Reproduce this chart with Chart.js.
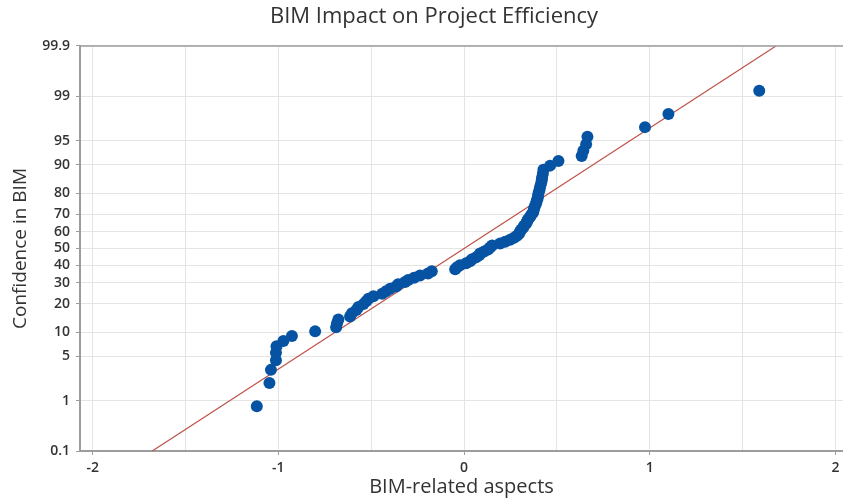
<!DOCTYPE html>
<html>
<head>
<meta charset="utf-8">
<script src="https://cdn.jsdelivr.net/npm/chart.js@4/dist/chart.umd.min.js"></script>
<style>
  html, body { margin: 0; padding: 0; background: #ffffff; }
  canvas { display: block; }
</style>
</head>
<body>
<canvas id="chart" width="843" height="503"></canvas>
<script>
// Sorted BIM-related aspect scores and their cumulative confidence (percent)
const aspectScores = [
  -1.116, -1.048, -1.040, -1.013, -1.013, -1.010, -0.973, -0.927, -0.802, -0.689,
  -0.684, -0.677, -0.614, -0.604, -0.580, -0.569, -0.542, -0.527, -0.515, -0.488,
  -0.441, -0.420, -0.398, -0.366, -0.355, -0.318, -0.301, -0.269, -0.237, -0.194,
  -0.174, -0.048, -0.038, -0.022, 0.011, 0.032, 0.043, 0.065, 0.081, 0.086,
  0.108, 0.129, 0.140, 0.151, 0.194, 0.221, 0.248, 0.269, 0.285, 0.296,
  0.301, 0.307, 0.318, 0.323, 0.334, 0.339, 0.344, 0.355, 0.361, 0.371,
  0.374, 0.377, 0.382, 0.388, 0.391, 0.396, 0.398, 0.401, 0.406, 0.409,
  0.414, 0.418, 0.420, 0.424, 0.427, 0.463, 0.508, 0.633, 0.642, 0.657,
  0.664, 0.974, 1.100, 1.589
];
const confidencePct = [
  0.8, 2.0, 3.2, 4.4, 5.6, 6.8, 7.9, 9.1, 10.3, 11.5,
  12.7, 13.9, 15.0, 16.2, 17.4, 18.6, 19.8, 21.0, 22.2, 23.3,
  24.5, 25.7, 26.9, 28.1, 29.3, 30.5, 31.6, 32.8, 34.0, 35.2,
  36.4, 37.6, 38.7, 39.9, 41.1, 42.3, 43.5, 44.7, 45.9, 47.0,
  48.2, 49.4, 50.6, 51.8, 53.0, 54.1, 55.3, 56.5, 57.7, 58.9,
  60.1, 61.3, 62.4, 63.6, 64.8, 66.0, 67.2, 68.4, 69.6, 70.7,
  71.9, 73.1, 74.3, 75.5, 76.7, 77.8, 79.0, 80.2, 81.4, 82.6,
  83.8, 85.0, 86.1, 87.3, 88.5, 89.7, 90.9, 92.1, 93.2, 94.4,
  95.6, 96.8, 98.0, 99.2
];

// Fitted normal reference line (end points)
const fitLineX = [-1.679, 1.679];
const fitLinePct = [0.1, 99.9];

// Axis ticks
const probTicks = [0.1, 1, 5, 10, 20, 30, 40, 50, 60, 70, 80, 90, 95, 99, 99.9];
const xGridTicks = [-2, -1.5, -1, -0.5, 0, 0.5, 1, 1.5, 2];

// Inverse standard normal CDF (Acklam's rational approximation),
// used to place probabilities on a normal-probability axis.
function probit(p) {
  const a = [-3.969683028665376e+01, 2.209460984245205e+02, -2.759285104469687e+02,
             1.383577518672690e+02, -3.066479806614716e+01, 2.506628277459239e+00];
  const b = [-5.447609879822406e+01, 1.615858368580409e+02, -1.556989798598866e+02,
             6.680131188771972e+01, -1.328068155288572e+01];
  const c = [-7.784894002430293e-03, -3.223964580411365e-01, -2.400758277161838e+00,
             -2.549732539343734e+00, 4.374664141464968e+00, 2.938163982698783e+00];
  const d = [7.784695709041462e-03, 3.224671290700398e-01, 2.445134137142996e+00,
             3.754408661907416e+00];
  const pl = 0.02425, ph = 1 - pl;
  let q, r;
  if (p < pl) {
    q = Math.sqrt(-2 * Math.log(p));
    return (((((c[0]*q + c[1])*q + c[2])*q + c[3])*q + c[4])*q + c[5]) /
           ((((d[0]*q + d[1])*q + d[2])*q + d[3])*q + 1);
  }
  if (p <= ph) {
    q = p - 0.5; r = q * q;
    return (((((a[0]*r + a[1])*r + a[2])*r + a[3])*r + a[4])*r + a[5]) * q /
           (((((b[0]*r + b[1])*r + b[2])*r + b[3])*r + b[4])*r + 1);
  }
  q = Math.sqrt(-2 * Math.log(1 - p));
  return -(((((c[0]*q + c[1])*q + c[2])*q + c[3])*q + c[4])*q + c[5]) /
          ((((d[0]*q + d[1])*q + d[2])*q + d[3])*q + 1);
}

const FONT = "'Open Sans', 'Noto Sans', 'DejaVu Sans', sans-serif";
const TEXT = '#333333';
const AXIS = '#9c9c9c';
const GRID = '#e4e4e4';

const points = aspectScores.map((x, i) => ({ x: x, y: probit(confidencePct[i] / 100) }));
const fitLine = fitLineX.map((x, i) => ({ x: x, y: probit(fitLinePct[i] / 100) }));

// Chart title and top frame edge
const frameAndTitle = {
  id: 'frameAndTitle',
  afterDraw(chart) {
    const { ctx, chartArea } = chart;
    ctx.save();
    ctx.strokeStyle = AXIS;
    ctx.lineWidth = 1.5;
    ctx.beginPath();
    ctx.moveTo(chartArea.left, chartArea.top);
    ctx.lineTo(chartArea.right, chartArea.top);
    ctx.stroke();
    ctx.fillStyle = TEXT;
    ctx.font = "22px " + FONT;
    ctx.textAlign = 'center';
    ctx.textBaseline = 'middle';
    ctx.fillText('BIM Impact on Project Efficiency', 434, 17);
    ctx.restore();
  }
};

new Chart(document.getElementById('chart'), {
  type: 'scatter',
  data: {
    datasets: [
      {
        label: 'BIM-related aspects',
        data: points,
        backgroundColor: '#0753a3',
        borderColor: '#0753a3',
        borderWidth: 0,
        pointRadius: 6,
        pointHoverRadius: 6
      },
      {
        type: 'line',
        label: 'Fit',
        data: fitLine,
        borderColor: '#bf5249',
        borderWidth: 1.2,
        pointRadius: 0,
        fill: false,
        tension: 0
      }
    ]
  },
  options: {
    responsive: false,
    animation: false,
    layout: { autoPadding: false, padding: { top: 46, left: 0, right: 0, bottom: 0 } },
    plugins: {
      legend: { display: false },
      title: { display: false },
      tooltip: { enabled: false }
    },
    scales: {
      x: {
        type: 'linear',
        min: -2.068,
        max: 2.04,
        afterBuildTicks: (s) => { s.ticks = xGridTicks.map(v => ({ value: v })); },
        afterFit: (s) => { s.height = 52; s.paddingLeft = 0; s.paddingRight = 0; },
        ticks: {
          autoSkip: false,
          maxRotation: 0,
          padding: 5,
          color: TEXT,
          font: { family: FONT, size: 14, weight: '600' },
          callback: (v) => Number.isInteger(v) ? String(v) : ''
        },
        grid: {
          color: GRID,
          lineWidth: 1,
          tickLength: 4,
          tickColor: (ctx) => (ctx.tick && Number.isInteger(ctx.tick.value)) ? AXIS : 'rgba(0,0,0,0)'
        },
        border: { color: AXIS, width: 2 },
        title: {
          display: true,
          text: 'BIM-related aspects',
          color: TEXT,
          font: { family: FONT, size: 20 },
          padding: { top: 0, bottom: 4 }
        }
      },
      y: {
        type: 'linear',
        min: probit(0.001),
        max: probit(0.999),
        afterBuildTicks: (s) => { s.ticks = probTicks.map(p => ({ value: probit(p / 100) })); },
        afterFit: (s) => { s.width = 80; },
        ticks: {
          autoSkip: false,
          padding: 6,
          color: TEXT,
          font: { family: FONT, size: 14, weight: '600' },
          callback: (v, i) => String(probTicks[i])
        },
        grid: {
          color: GRID,
          lineWidth: 1,
          tickLength: 4,
          tickColor: AXIS
        },
        border: { color: AXIS, width: 2 },
        title: {
          display: true,
          text: 'Confidence in BIM',
          color: TEXT,
          font: { family: FONT, size: 19 },
          padding: { top: 9, bottom: 0 }
        }
      }
    }
  },
  plugins: [frameAndTitle]
});
</script>
</body>
</html>
